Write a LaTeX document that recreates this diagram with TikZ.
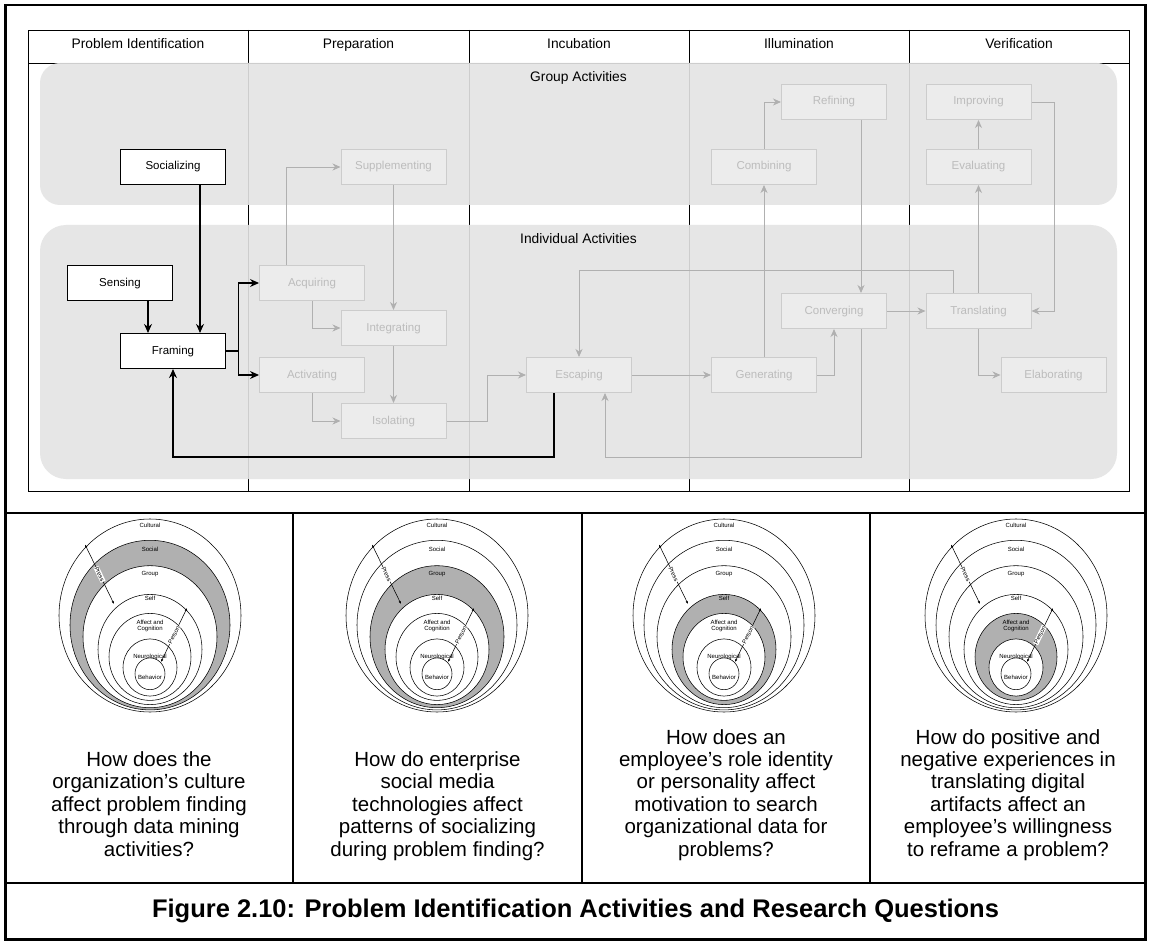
\documentclass[tikz,border=0pt]{standalone}
\usepackage{fontspec}
\setmainfont{Liberation Sans}
\usetikzlibrary{arrows.meta}

\definecolor{lanegray}{RGB}{228,228,228}
\definecolor{boxfill}{RGB}{236,236,236}
\definecolor{boxline}{RGB}{204,204,204}
\definecolor{boxtext}{RGB}{188,188,188}
\definecolor{flowgray}{RGB}{176,176,176}
\definecolor{bandgray}{RGB}{176,176,176}

% one onion diagram: #1 = centre x, #2 = shaded ring (1..4)
\newcommand{\onionrings}[2]{%
  \begin{scope}[shift={(#1,0)}]
    \ifcase#2\or
      \fill[bandgray,even odd rule]
        (0,625.1) circle[x radius=80pt,y radius=84.8pt]
        (0,636.7) circle[x radius=67pt,y radius=71pt];
    \or
      \fill[bandgray,even odd rule]
        (0,636.7) circle[x radius=67pt,y radius=71pt]
        (0,649.5) circle[x radius=52pt,y radius=55.1pt];
    \or
      \fill[bandgray,even odd rule]
        (0,649.5) circle[x radius=52pt,y radius=55.1pt]
        (0,656.9) circle[x radius=41pt,y radius=43.5pt];
    \or
      \fill[bandgray,even odd rule]
        (0,656.9) circle[x radius=41pt,y radius=43.5pt]
        (0,667.5) circle[x radius=27pt,y radius=28.6pt];
    \fi
    \draw[ring] (0,615.5) circle[x radius=91pt,y radius=96.5pt];
    \draw[ring] (0,625.1) circle[x radius=80pt,y radius=84.8pt];
    \draw[ring] (0,636.7) circle[x radius=67pt,y radius=71pt];
    \draw[ring] (0,649.5) circle[x radius=52pt,y radius=55.1pt];
    \draw[ring] (0,656.9) circle[x radius=41pt,y radius=43.5pt];
    \draw[ring] (0,667.5) circle[x radius=27pt,y radius=28.6pt];
    \draw[ring] (0,673.8) circle[x radius=15pt,y radius=15.9pt];
    \node[ringlbl] (cul) at (0,525) {Cultural};
    \node[ringlbl] (soc) at (0,549) {Social};
    \node[ringlbl] (grp) at (0,574) {Group};
    \node[ringlbl] (slf) at (0,598.5) {Self};
    \node[ringlbl,align=center] (aff) at (0,626) {Affect and\\Cognition};
    \node[ringlbl] (neu) at (0,657) {Neurological};
    \node[ringlbl] (beh) at (0,677) {Behavior};
    \coordinate (pressA) at (-65,544.5);
    \coordinate (pressB) at (-36,604);
    \coordinate (personA) at (11,662);
    \coordinate (personB) at (37,608);
    \draw[ringarrow] (pressA) -- (pressB)
      node[midway,sloped,ringlbl,fill=white,inner sep=0.6pt] {Press};
    \draw[ringarrow] (personA) -- (personB)
      node[midway,sloped,ringlbl,fill=white,inner sep=0.6pt] {Person};
  \end{scope}}

\begin{document}
\begin{tikzpicture}[x=1pt,y=-1pt,
  hdr/.style={font=\fontsize{13.8}{16}\selectfont,text height=10pt,text depth=3pt},
  actbox/.style={draw=black,line width=1.1pt,fill=white,minimum width=105pt,
    minimum height=35pt,inner sep=0pt,text height=8.5pt,text depth=2.5pt,
    font=\fontsize{11.5}{13}\selectfont},
  fadebox/.style={draw=boxline,line width=1pt,fill=boxfill,text=boxtext,
    minimum width=105pt,minimum height=35pt,inner sep=0pt,
    text height=8.5pt,text depth=2.5pt,font=\fontsize{11.5}{13}\selectfont},
  blkflow/.style={draw=black,line width=1.1pt,
    -{Stealth[length=9pt,width=8pt,inset=3pt]}},
  grayflow/.style={draw=flowgray,line width=0.9pt,
    -{Stealth[length=8pt,width=7pt,inset=2.5pt,fill=flowgray]}},
  ring/.style={draw=black,line width=0.55pt},
  ringlbl/.style={font=\fontsize{6}{6.6}\selectfont,inner sep=0pt},
  ringarrow/.style={draw=black,line width=0.55pt,
    {Latex[length=3pt,width=2.4pt]}-{Latex[length=3pt,width=2.4pt]}},
  qtext/.style={align=center,inner sep=0pt,font=\fontsize{20.5}{22.4}\selectfont},
]
\useasboundingbox (0,0) rectangle (1151,944);
\fill[white] (0,0) rectangle (1151,944);

% ---------- stage frame ----------
\draw[line width=0.9pt] (28,30) rectangle (1129,491);
\draw[line width=0.9pt] (28,63) -- (1129,63);
\foreach \xx in {248,469,689,909}
  \draw[line width=0.9pt] (\xx,30) -- (\xx,491);
\node[hdr] (h1) at (138,45) {Problem Identification};
\node[hdr] (h2) at (358.5,45) {Preparation};
\node[hdr] (h3) at (579,45) {Incubation};
\node[hdr] (h4) at (799,45) {Illumination};
\node[hdr] (h5) at (1019,45) {Verification};

% ---------- swim lanes ----------
\fill[lanegray,fill opacity=0.9,rounded corners=20pt] (40,63) rectangle (1117,205);
\fill[lanegray,fill opacity=0.9,rounded corners=26pt] (40,225) rectangle (1117,479);
\node[hdr] (glane) at (578.5,78) {Group Activities};
\node[hdr] (ilane) at (578.5,240) {Individual Activities};

% ---------- activities ----------
\node[actbox] (socz) at (173,167) {Socializing};
\node[actbox] (sens) at (120,283) {Sensing};
\node[actbox] (fram) at (173,351) {Framing};

\node[fadebox] (supp) at (393.5,167) {Supplementing};
\node[fadebox] (acq)  at (312,283) {Acquiring};
\node[fadebox] (intg) at (393.5,328) {Integrating};
\node[fadebox] (actv) at (312,375) {Activating};
\node[fadebox] (isol) at (393.5,421) {Isolating};
\node[fadebox] (esc)  at (579,375) {Escaping};
\node[fadebox] (gen)  at (764,375) {Generating};
\node[fadebox] (comb) at (764,167) {Combining};
\node[fadebox] (refi) at (834,102) {Refining};
\node[fadebox] (conv) at (834,311) {Converging};
\node[fadebox] (tran) at (978.5,311) {Translating};
\node[fadebox] (elab) at (1053.5,375) {Elaborating};
\node[fadebox] (eval) at (978.5,167) {Evaluating};
\node[fadebox] (impr) at (978.5,102) {Improving};

% ---------- faded flows ----------
\draw[grayflow] (acq.south) |- (intg.west);
\draw[grayflow] ([xshift=-26pt]acq.north) |- (supp.west);
\draw[grayflow] (supp.south) -- (intg.north);
\draw[grayflow] (intg.south) -- (isol.north);
\draw[grayflow] (actv.south) |- (isol.west);
\draw[grayflow] (isol.east) -- ++(41,0) |- (esc.west);
\draw[grayflow] (esc.east) -- (gen.west);
\draw[grayflow] (gen.east) -| (conv.south);
\draw[grayflow] (gen.north) -- (comb.south);
\draw[grayflow] (comb.north) |- (refi.west);
\draw[grayflow] ([xshift=27pt]refi.south) -- ([xshift=27pt]conv.north);
\draw[grayflow] ([xshift=27pt]conv.south) -- ++(0,128) -| ([xshift=26pt]esc.south);
\draw[grayflow] (conv.east) -- (tran.west);
\draw[grayflow] ([xshift=-25pt]tran.north) -- ++(0,-23) -| (esc.north);
\draw[grayflow] (tran.north) -- (eval.south);
\draw[grayflow] (eval.north) -- (impr.south);
\draw[grayflow] (impr.east) -- ++(23,0) |- (tran.east);
\draw[grayflow] (tran.south) |- (elab.west);

% ---------- problem identification flows ----------
\draw[blkflow] ([xshift=27pt]socz.south) -- ([xshift=27pt]socz.south |- fram.north);
\draw[blkflow] ([xshift=28pt]sens.south) -- ([xshift=28pt]sens.south |- fram.north);
\draw[blkflow] (fram.east) -- ++(12,0) |- (acq.west);
\draw[blkflow] (fram.east) -- ++(12,0) |- (actv.west);
\draw[blkflow] ([xshift=-25pt]esc.south) -- ++(0,64) -| (fram.south);

% ---------- lower table ----------
\draw[line width=2.5pt] (5.5,5) rectangle (1145.5,939.5);
\draw[line width=2pt] (5.5,513) -- (1145.5,513);
\draw[line width=2pt] (5.5,883) -- (1145.5,883);
\foreach \xx in {293,582,870}
  \draw[line width=2pt] (\xx,513) -- (\xx,883);

\onionrings{150}{1}
\onionrings{437}{2}
\onionrings{724}{3}
\onionrings{1016}{4}

\node[qtext,anchor=south] (q1) at (149,863)
  {How does the\\organization’s culture\\affect problem finding\\through data mining\\activities?\strut};
\node[qtext,anchor=south] (q2) at (437.5,863)
  {How do enterprise\\social media\\technologies affect\\patterns of socializing\\during problem finding?\strut};
\node[qtext,anchor=south] (q3) at (726,863)
  {How does an\\employee’s role identity\\or personality affect\\motivation to search\\organizational data for\\problems?\strut};
\node[qtext,anchor=south] (q4) at (1008,863)
  {How do positive and\\negative experiences in\\translating digital\\artifacts affect an\\employee’s willingness\\to reframe a problem?\strut};

\node[font=\bfseries\fontsize{25.5}{28}\selectfont] (cap) at (575.5,911)
  {Figure 2.10: Problem Identification Activities and Research Questions};
\end{tikzpicture}
\end{document}
